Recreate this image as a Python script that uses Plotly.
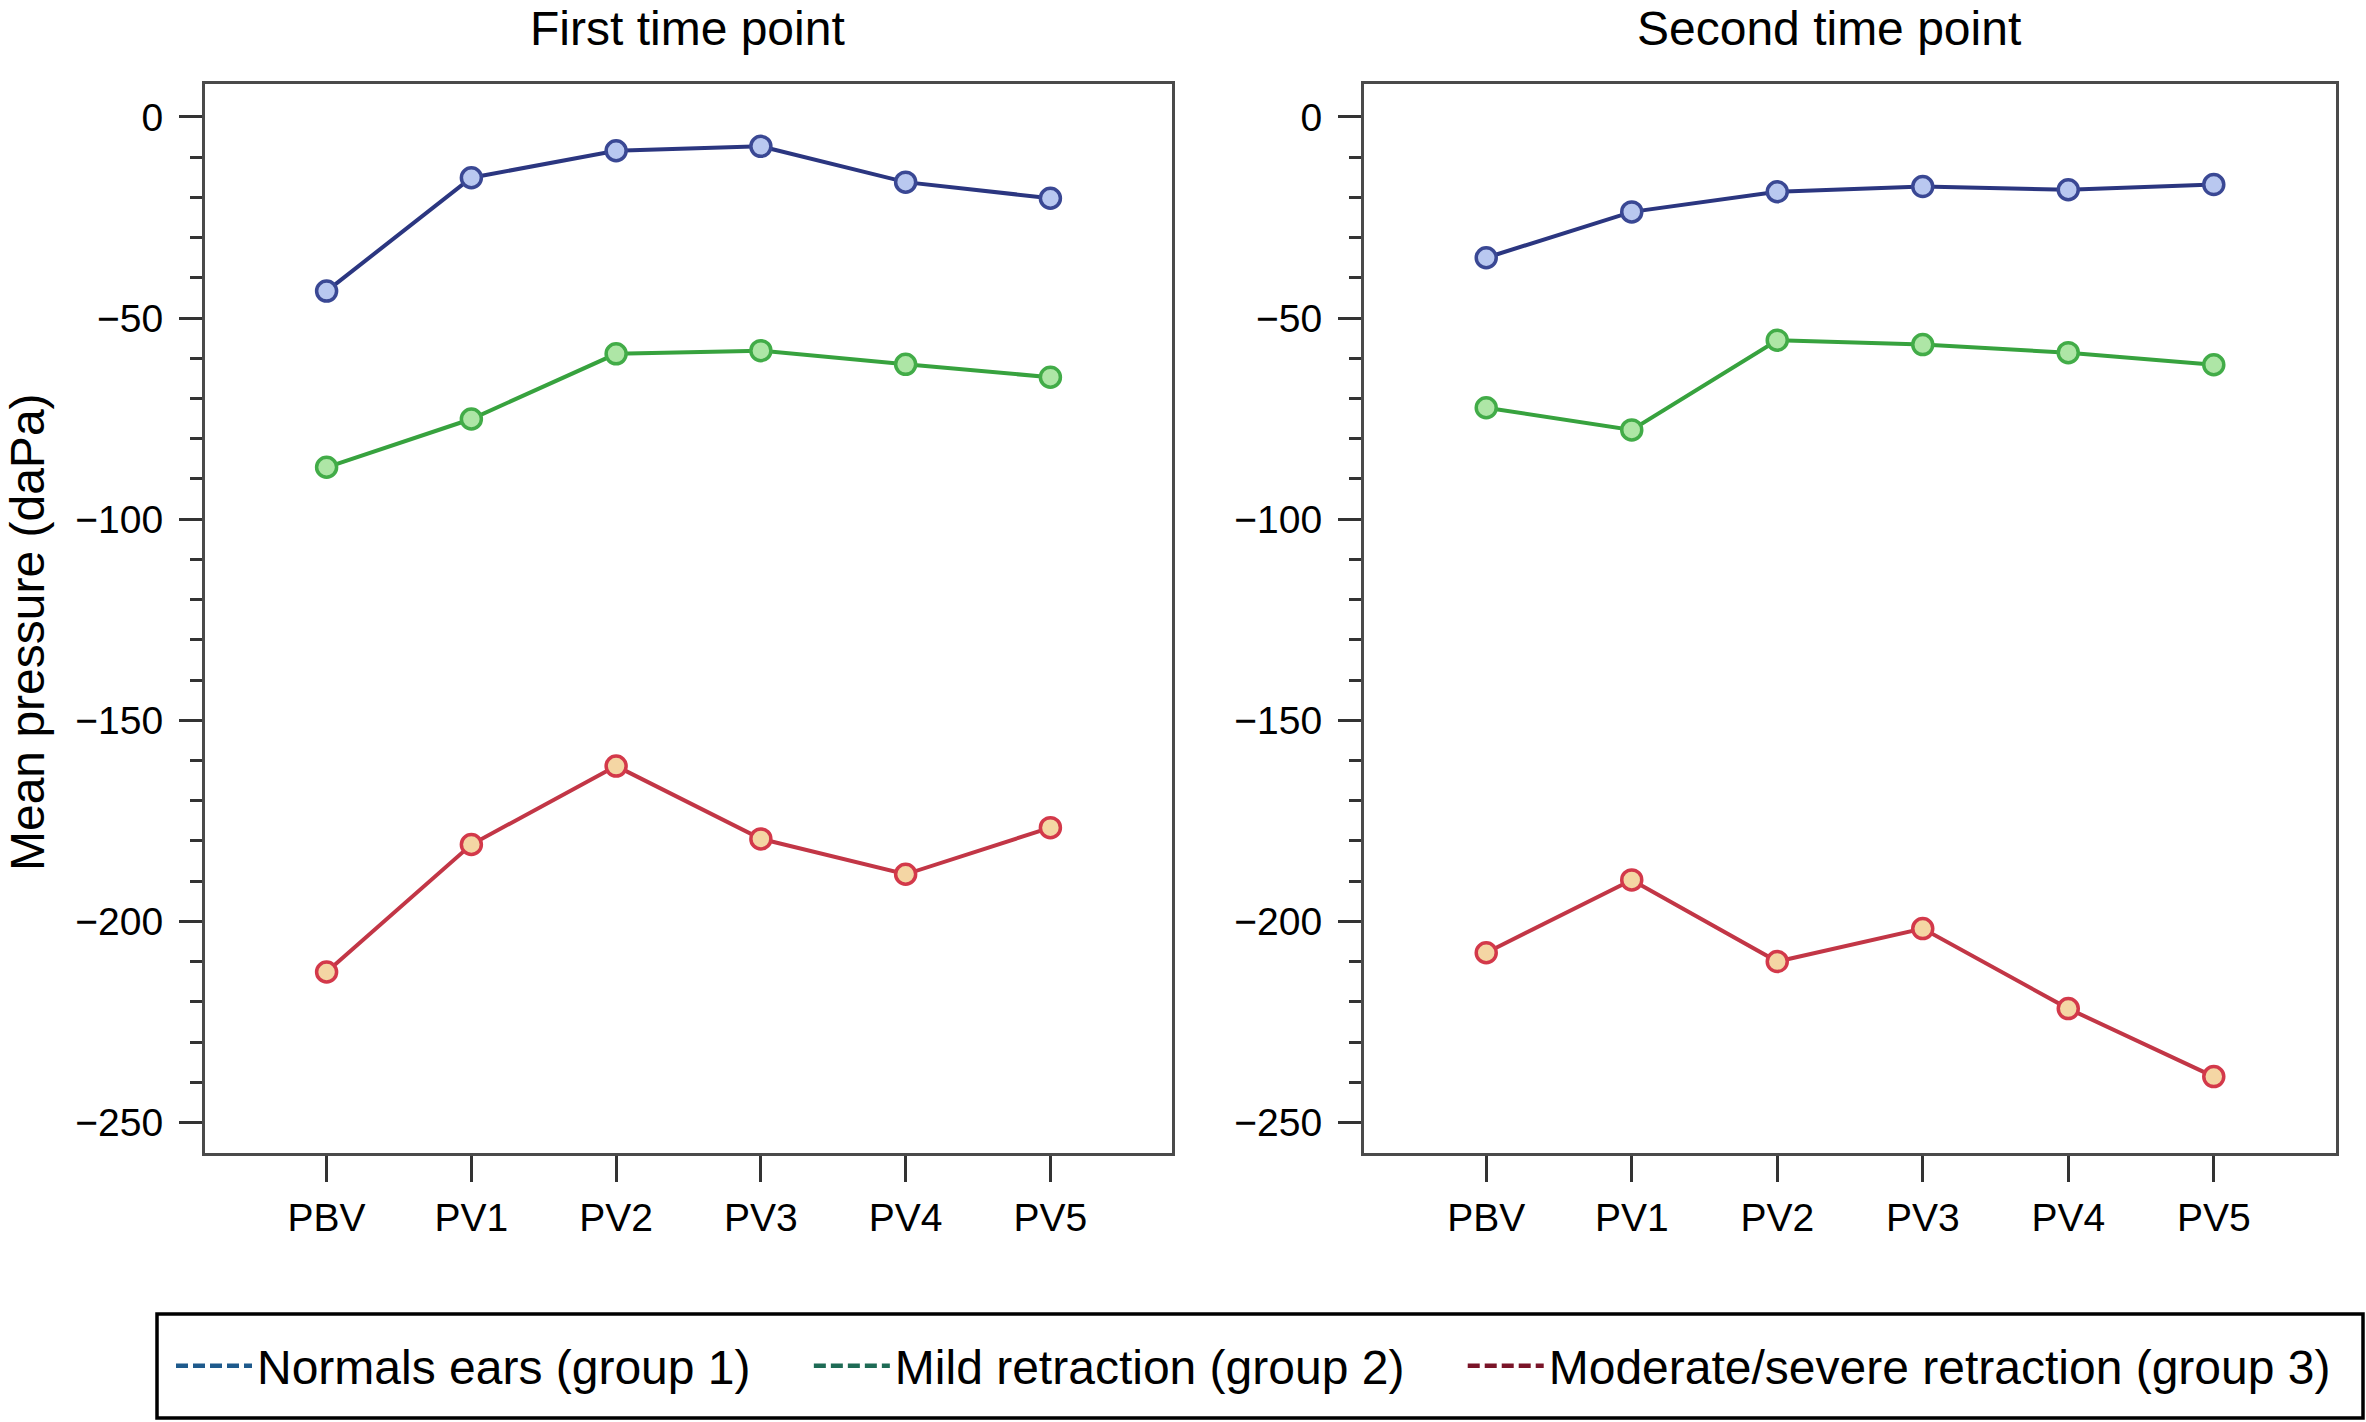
import plotly.graph_objects as go

W, H = 2366, 1422

categories = ["PBV", "PV1", "PV2", "PV3", "PV4", "PV5"]

# First time point (mean pressure, daPa)
first_normal = [-43.3, -15.1, -8.4, -7.3, -16.2, -20.2]
first_mild = [-87.1, -75.1, -58.9, -58.1, -61.5, -64.7]
first_severe = [-212.6, -180.9, -161.4, -179.5, -188.3, -176.7]

# Second time point
second_normal = [-35.0, -23.6, -18.6, -17.3, -18.1, -16.8]
second_mild = [-72.3, -77.8, -55.5, -56.6, -58.6, -61.6]
second_severe = [-207.8, -189.7, -210.0, -201.8, -221.7, -238.6]

panel_titles = ["First time point", "Second time point"]
legend_names = ["Normals ears (group 1)", "Mild retraction (group 2)",
                "Moderate/severe retraction (group 3)"]
y_title = "Mean pressure (daPa)"

FONT = "Liberation Sans, Arial, Helvetica, sans-serif"
NBSP = "\u00a0"

styles = [
    dict(line="#2B3680", fill="#B9C8F0", edge="#3A4894", leg="#1E5A8C"),
    dict(line="#37A23E", fill="#AEE6A6", edge="#42AC48", leg="#1E6B55"),
    dict(line="#C23646", fill="#F4D6A4", edge="#D3394A", leg="#7A1428"),
]

fig = go.Figure()

panels = [
    ("x", "y", [first_normal, first_mild, first_severe]),
    ("x2", "y2", [second_normal, second_mild, second_severe]),
]
for xa, ya, series in panels:
    for vals, st in zip(series, styles):
        fig.add_trace(go.Scatter(
            x=categories, y=vals, xaxis=xa, yaxis=ya, mode="lines+markers",
            line=dict(color=st["line"], width=4),
            marker=dict(symbol="circle", size=20, color=st["fill"],
                        line=dict(color=st["edge"], width=3.5)),
            showlegend=False, hoverinfo="x+y",
        ))

# legend entries (dashed samples as in the original)
pads = [4, 4, 0]
for name, st, pad in zip(legend_names, styles, pads):
    fig.add_trace(go.Scatter(
        x=[None], y=[None], xaxis="x", yaxis="y", mode="lines",
        name=name + NBSP * pad,
        line=dict(color=st["leg"], width=4.5, dash="12px,5px"),
    ))

def px_x(p):
    return p / W

def px_y(p):
    return 1 - p / H

xdoms = [[px_x(205), px_x(1172)], [px_x(1364), px_x(2336)]]
ydom = [px_y(1153), px_y(84)]

common_x = dict(
    type="category", range=[-0.84, 5.84], showline=True, mirror=True,
    linecolor="#4a4a4a", linewidth=3, ticks="outside", ticklen=26,
    tickwidth=3, tickcolor="#333333", showgrid=False, zeroline=False,
    tickfont=dict(family=FONT, size=39, color="black"),
    ticklabelstandoff=2,
)
common_y = dict(
    range=[-257.6, 8.2], tick0=0, dtick=50, showline=True, mirror=True,
    linecolor="#4a4a4a", linewidth=3, ticks="outside", ticklen=23,
    tickwidth=3, tickcolor="#333333", showgrid=False, zeroline=False,
    tickfont=dict(family=FONT, size=39, color="black"),
    tickformat="d", ticklabelstandoff=8,
    minor=dict(dtick=10, tick0=0, ticks="outside", ticklen=12, tickwidth=2.5,
               tickcolor="#333333", showgrid=False),
)

fig.update_layout(
    width=W, height=H, margin=dict(l=0, r=0, t=0, b=0),
    paper_bgcolor="white", plot_bgcolor="white",
    font=dict(family=FONT, color="black"),
    xaxis=dict(domain=xdoms[0], anchor="y", **common_x),
    yaxis=dict(domain=ydom, anchor="x", **common_y),
    xaxis2=dict(domain=xdoms[1], anchor="y2", **common_x),
    yaxis2=dict(domain=ydom, anchor="x2", **common_y),
    showlegend=True,
    legend=dict(
        orientation="h", x=px_x(171), xanchor="left", y=px_y(1366),
        yanchor="middle", bgcolor="rgba(0,0,0,0)", borderwidth=0,
        font=dict(family=FONT, size=48, color="black"), itemwidth=76,
    ),
)

# legend frame
fig.add_shape(type="rect", xref="paper", yref="paper",
              x0=px_x(157), x1=px_x(2363), y0=px_y(1418), y1=px_y(1314),
              line=dict(color="black", width=3.5), fillcolor="rgba(0,0,0,0)")

# panel titles
for xc, t in zip([px_x(687), px_x(1829)], panel_titles):
    fig.add_annotation(x=xc, y=px_y(28), xref="paper", yref="paper",
                       text=t, showarrow=False, xanchor="center",
                       yanchor="middle",
                       font=dict(family=FONT, size=48, color="black"))

# y-axis title
fig.add_annotation(x=px_x(27), y=px_y(632), xref="paper", yref="paper",
                   text=y_title, showarrow=False, textangle=-90,
                   xanchor="center", yanchor="middle",
                   font=dict(family=FONT, size=48, color="black"))

fig.write_html(
    "out.html",
    config={"displayModeBar": False},
    post_script="document.body.style.margin='0';document.body.style.overflow='hidden';",
)
